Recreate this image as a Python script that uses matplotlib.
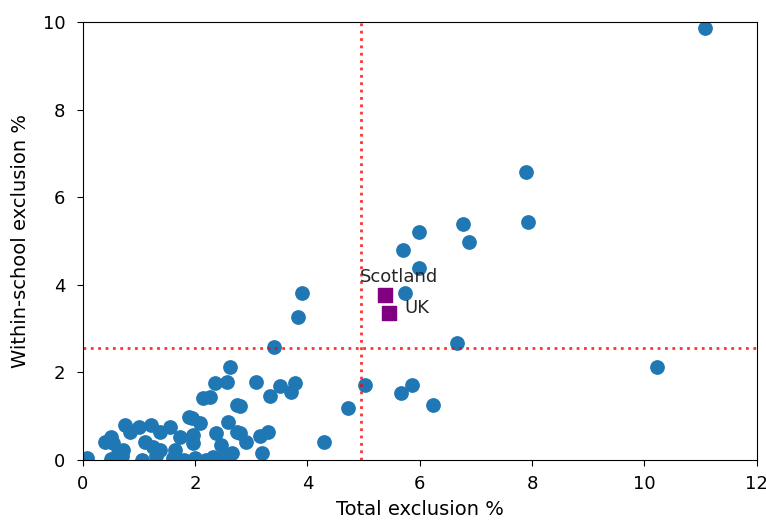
import matplotlib
matplotlib.use("Agg")
import matplotlib.pyplot as plt

total_excl = [
    11.07, 7.89, 7.92, 6.77, 6.87, 5.98, 5.70, 5.98, 5.73, 3.90, 3.83, 3.40,
    6.66, 10.22, 5.02, 5.87, 5.66, 6.23, 4.72, 4.29,
    3.08, 3.33, 3.51, 3.77, 3.70, 2.80, 3.30, 3.16, 2.91, 2.80, 3.20,
    2.62, 2.56, 2.35, 2.26, 2.14, 2.74, 1.94, 2.08, 2.59, 2.74, 2.38, 1.73,
    1.96, 1.96, 2.47, 2.65, 2.32,
    0.07, 0.39, 0.51, 0.54, 0.75, 0.84, 0.72, 0.63, 1.01, 1.22, 1.37, 1.55,
    1.10, 1.25, 1.37, 1.64, 1.90,
    0.50, 0.70, 1.05, 1.30, 1.60, 1.80, 2.00, 2.20, 2.45, 2.60,
]
within_excl = [
    9.86, 6.58, 5.43, 5.39, 4.98, 5.21, 4.79, 4.38, 3.81, 3.81, 3.26, 2.58,
    2.67, 2.12, 1.71, 1.71, 1.53, 1.26, 1.19, 0.41,
    1.79, 1.46, 1.69, 1.75, 1.55, 1.23, 0.65, 0.55, 0.42, 0.62, 0.15,
    2.13, 1.79, 1.75, 1.45, 1.41, 1.26, 0.95, 0.84, 0.87, 0.65, 0.61, 0.53,
    0.57, 0.38, 0.34, 0.15, 0.08,
    0.05, 0.42, 0.53, 0.38, 0.80, 0.65, 0.23, 0.15, 0.76, 0.80, 0.65, 0.76,
    0.42, 0.30, 0.23, 0.23, 0.99,
    0.02, 0.10, 0.00, 0.10, 0.05, 0.00, 0.05, 0.00, 0.05, 0.10,
]

regions = ["Scotland", "UK"]
region_total = [5.38, 5.45]
region_within = [3.77, 3.36]
label_x = [4.93, 5.73]
label_y = [4.06, 3.36]

mean_total = 4.95
mean_within = 2.56

fig = plt.figure(figsize=(7.66, 5.21), dpi=100)
ax = fig.add_axes([0.108, 0.117, 0.880, 0.841])
ax.scatter(total_excl, within_excl, s=92, color="#1f77b4")
ax.scatter(region_total, region_within, s=92, marker="s", color="purple")
for name, lx, ly in zip(regions, label_x, label_y):
    ax.text(lx, ly, name, fontsize=13, color="#262626")
ax.axvline(mean_total, color="red", linestyle=":", linewidth=2, alpha=0.8)
ax.axhline(mean_within, color="red", linestyle=":", linewidth=2, alpha=0.8)
ax.set_xlim(0, 12)
ax.set_ylim(0, 10)
ax.set_xlabel("Total exclusion %", fontsize=14, labelpad=5)
ax.set_ylabel("Within-school exclusion %", fontsize=14, labelpad=9)
ax.tick_params(axis="both", length=4.5, labelsize=13)
ax.tick_params(axis="x", pad=6)
ax.tick_params(axis="y", pad=8)
fig.savefig("out.png", dpi=100)
